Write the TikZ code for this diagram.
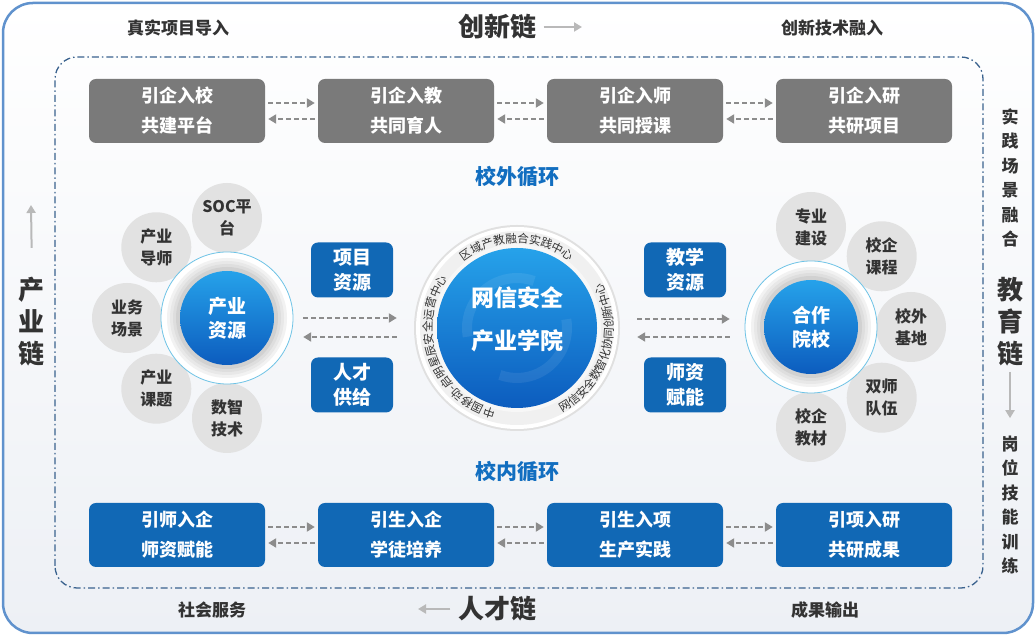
\documentclass[tikz,border=0pt]{standalone}
\usepackage{fontspec}
\setmainfont{Noto Sans CJK SC}
\usetikzlibrary{arrows.meta,decorations.text,calc}
\definecolor{frameBlue}{RGB}{96,146,205}
\definecolor{dashBlue}{RGB}{58,98,142}
\definecolor{boxGray}{RGB}{122,122,122}
\definecolor{boxBlue}{RGB}{17,104,181}
\definecolor{titleBlue}{RGB}{18,110,192}
\definecolor{txtDark}{RGB}{51,51,51}
\definecolor{satGray}{RGB}{226,226,226}
\definecolor{arrowGray}{RGB}{140,140,140}
\definecolor{chainGray}{RGB}{185,185,185}
\definecolor{ringCyan}{RGB}{110,195,230}
\definecolor{ballTop}{RGB}{38,162,234}
\definecolor{ballBot}{RGB}{12,92,190}
\definecolor{pageBot}{RGB}{237,240,245}

\begin{document}
\begin{tikzpicture}[x=1pt, y=1pt,
  chainbox/.style={rounded corners=7pt, minimum width=176pt, minimum height=64pt, text=white, align=center, font=\bfseries\fontsize{18}{30}\selectfont},
  topbox/.style={chainbox, fill=boxGray},
  lowbox/.style={chainbox, fill=boxBlue},
  resbox/.style={rounded corners=7pt, fill=boxBlue, minimum width=82pt, minimum height=55pt, text=white, align=center, font=\bfseries\fontsize{19}{25}\selectfont},
  satnode/.style={circle, fill=satGray, minimum size=70pt, inner sep=0pt, text=txtDark, align=center, font=\bfseries\fontsize{16}{22}\selectfont},
  ballnode/.style={circle, minimum size=94pt, inner sep=0pt, text=white, align=center, font=\bfseries\fontsize{19}{24}\selectfont},
  flow/.style={arrowGray, line width=2pt, dash pattern=on 5pt off 3pt, -{Triangle[length=8pt,width=9pt]}, shorten <=3pt, shorten >=3pt},
  chainarrow/.style={chainGray, line width=2pt, -{Triangle[length=8pt,width=9pt]}},
  sidetxt/.style={text=txtDark, font=\bfseries\fontsize{17}{24.5}\selectfont, align=center},
  chaintxt/.style={text=txtDark, font=\bfseries\fontsize{26}{32}\selectfont, align=center},
  looptxt/.style={text=titleBlue, font=\bfseries\fontsize{21}{21}\selectfont},
  ringtxt/.style={decorate, decoration={text along path, text align=center, text={|\fontsize{11.5}{11.5}\selectfont\color{txtDark}|#1}}}
]
\useasboundingbox (0,0) rectangle (1036,636);

% Frame
\shadedraw[top color=white, bottom color=pageBot, draw=frameBlue, line width=2.5pt, rounded corners=30pt] (3,3) rectangle (1033,633);
\draw[dashBlue, line width=1.3pt, dash pattern=on 7pt off 3pt on 1.5pt off 3pt, rounded corners=22pt] (55,48) rectangle (983,579);

% Chains round the frame
\node[sidetxt] (realproj) at (178,608) {真实项目导入};
\node[chaintxt] (innov) at (497,609) {创新链};
\coordinate (innovtip) at (582,609);
\draw[chainarrow, shorten <=4pt] (innov.east) -- (innovtip);
\node[sidetxt] (innovtech) at (832,608) {创新技术融入};

\node[sidetxt] (service) at (212,26) {社会服务};
\node[chaintxt] (talent) at (497,27) {人才链};
\coordinate (talenttip) at (418,27);
\draw[chainarrow, shorten <=4pt] (talent.west) -- (talenttip);
\node[sidetxt] (output) at (825,26) {成果输出};

\node[chaintxt] (indchain) at (32,314) {产\\业\\链};
\coordinate (indtip) at (31,431);
\draw[chainarrow, shorten <=26pt] (indchain.north) -- (indtip);

\node[sidetxt] (scene) at (1010,458) {实\\践\\场\\景\\融\\合};
\node[chaintxt] (educhain) at (1010,314) {教\\育\\链};
\node[sidetxt] (skill) at (1010,131) {岗\\位\\技\\能\\训\\练};
\draw[chainarrow, shorten <=2pt, shorten >=14pt] (educhain.south) -- (skill.north);

% Outer loop
\node[topbox] (t1) at (177,525) {引企入校\\共建平台};
\node[topbox] (t2) at (406,525) {引企入教\\共同育人};
\node[topbox] (t3) at (635,525) {引企入师\\共同授课};
\node[topbox] (t4) at (864,525) {引企入研\\共研项目};
\node[looptxt] (outloop) at (517,459) {校外循环};

% Inner loop
\node[lowbox] (l1) at (177,101) {引师入企\\师资赋能};
\node[lowbox] (l2) at (406,101) {引生入企\\学徒培养};
\node[lowbox] (l3) at (635,101) {引生入项\\生产实践};
\node[lowbox] (l4) at (864,101) {引项入研\\共研成果};
\node[looptxt] (inloop) at (517,164) {校内循环};

\foreach \a/\b in {t1/t2,t2/t3,t3/t4,l1/l2,l2/l3,l3/l4} {
  \draw[flow] ([yshift=8pt]\a.east) -- ([yshift=8pt]\b.west);
  \draw[flow] ([yshift=-8pt]\b.west) -- ([yshift=-8pt]\a.east);
}

% Centre
\node[circle, minimum size=204pt, inner sep=0pt] (core) at (517,308) {};
\fill[black!12] (core.center) circle (103pt);
\fill[white] (core.center) circle (101pt);
\fill[black!6] (core.center) circle (97pt);
\fill[black!3] (core.center) circle (84pt);
\shade[top color=ballTop, bottom color=ballBot] (core.center) circle (80pt);
\draw[white, opacity=0.08, line width=10pt] (core.center) ++(70:50pt) arc (70:190:50pt);
\draw[white, opacity=0.08, line width=10pt] (core.center) ++(250:50pt) arc (250:370:50pt);
\node[text=white, font=\bfseries\fontsize{23}{43}\selectfont, align=center] (coretxt) at (517,317) {网信安全\\产业学院};
\path[ringtxt={区域产教融合实践中心}] (core.center) ++(132:85pt) arc (132:48:85pt);
\path[ringtxt={网信安全数智化协同创新中心}] (core.center) ++(-66:96pt) arc (-66:32:96pt);
\path[ringtxt={中国移动-启明星辰安全运营中心}] (core.center) ++(254:85pt) arc (254:146:85pt);

% Industry side
\node[circle, minimum size=132pt, inner sep=0pt] (indring) at (227,318) {};
\foreach \ang/\txt in {90/{SOC平\\台}, 135/{产业\\导师}, 180/{业务\\场景}, 225/{产业\\课题}, 270/{数智\\技术}}
  \node[satnode] (indsat\ang) at ($(indring.center)+(\ang:100pt)$) {\txt};
\fill[white] (indring.center) circle (66pt);
\draw[ringCyan, line width=0.8pt] (indring.center) circle (66pt);
\foreach \r/\g in {60/5, 57/9, 54/13, 51/18}
  \fill[black!\g] (indring.center) circle (\r pt);
\shade[top color=ballTop, bottom color=ballBot] (indring.center) circle (47pt);
\node[ballnode] (indball) at (indring.center) {产业\\资源};

% School side
\node[circle, minimum size=132pt, inner sep=0pt] (schring) at (811,309) {};
\foreach \ang/\txt in {90/{专业\\建设}, 45/{校企\\课程}, 0/{校外\\基地}, -45/{双师\\队伍}, -90/{校企\\教材}}
  \node[satnode] (schsat\ang) at ($(schring.center)+(\ang:100pt)$) {\txt};
\fill[white] (schring.center) circle (66pt);
\draw[ringCyan, line width=0.8pt] (schring.center) circle (66pt);
\foreach \r/\g in {60/5, 57/9, 54/13, 51/18}
  \fill[black!\g] (schring.center) circle (\r pt);
\shade[top color=ballTop, bottom color=ballBot] (schring.center) circle (47pt);
\node[ballnode] (schball) at (schring.center) {合作\\院校};

% Resources between
\node[resbox] (projres) at (352,366) {项目\\资源};
\node[resbox] (talsup) at (352,251) {人才\\供给};
\node[resbox] (teachres) at (685,366) {教学\\资源};
\node[resbox] (teachemp) at (685,251) {师资\\赋能};

\draw[flow, shorten <=10pt, shorten >=18pt] (indring.east) -- ([yshift=10pt]core.west);
\draw[flow, shorten <=18pt, shorten >=10pt] ([yshift=-9pt]core.west) -- ([yshift=-19pt]indring.east);
\draw[flow, shorten <=18pt, shorten >=15pt] ([yshift=9pt]core.east) -- ([yshift=8pt]schring.west);
\draw[flow, shorten <=15pt, shorten >=18pt] ([yshift=-10pt]schring.west) -- ([yshift=-9pt]core.east);
\end{tikzpicture}
\end{document}
